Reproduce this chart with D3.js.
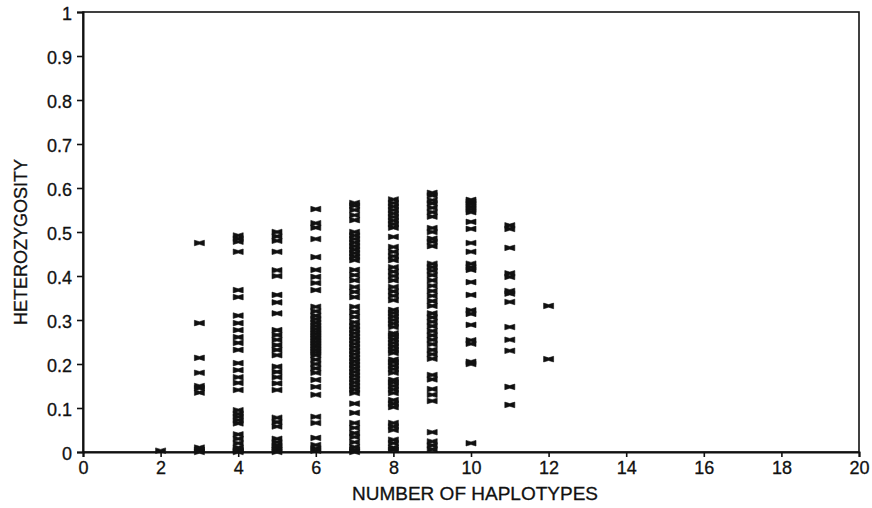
<!DOCTYPE html>
<html>
<head>
<meta charset="utf-8">
<script src="https://cdn.jsdelivr.net/npm/d3@7"></script>
<style>
  body { margin: 0; background: #fff; }
  svg { display: block; font-family: "Liberation Sans", Arial, Helvetica, sans-serif; }
</style>
</head>
<body>
<svg id="chart" width="872" height="508"></svg>
<script>
// heterozygosity of each locus, grouped by number of haplotypes
const het2 = [0.003];
const het3 = [0.0, 0.005, 0.01, 0.135, 0.145, 0.15, 0.18, 0.214, 0.293, 0.475];
const het4 = [0.0, 0.003, 0.006, 0.01, 0.02, 0.03, 0.04, 0.065, 0.072, 0.08, 0.087, 0.095,
  0.141, 0.157, 0.17, 0.186, 0.202, 0.232, 0.248, 0.261, 0.277, 0.293, 0.31, 0.352, 0.368,
  0.455, 0.478, 0.485, 0.492];
const het5 = [0.0, 0.005, 0.01, 0.015, 0.022, 0.03, 0.058, 0.068, 0.078, 0.141, 0.156, 0.17,
  0.182, 0.194, 0.22, 0.232, 0.243, 0.255, 0.266, 0.277, 0.315, 0.34, 0.357, 0.4, 0.413,
  0.455, 0.48, 0.49, 0.5];
const het6 = [0.003, 0.008, 0.016, 0.032, 0.066, 0.08, 0.13, 0.148, 0.164, 0.18, 0.19, 0.2,
  0.21, 0.22, 0.226, 0.232, 0.238, 0.244, 0.25, 0.256, 0.262, 0.268, 0.274, 0.28, 0.287,
  0.294, 0.302, 0.31, 0.32, 0.33, 0.368, 0.384, 0.398, 0.414, 0.443, 0.484, 0.51, 0.52, 0.552];
const het7 = [0.0, 0.005, 0.011, 0.022, 0.034, 0.043, 0.055, 0.066, 0.089, 0.11, 0.134,
  0.142, 0.15, 0.158, 0.166, 0.174, 0.182, 0.19, 0.198, 0.206, 0.214, 0.222, 0.23, 0.238,
  0.246, 0.254, 0.262, 0.27, 0.278, 0.286, 0.295, 0.307, 0.318, 0.33, 0.352, 0.364, 0.375,
  0.39, 0.402, 0.414, 0.436, 0.444, 0.452, 0.46, 0.468, 0.476, 0.484, 0.492, 0.5, 0.527,
  0.538, 0.55, 0.56, 0.566];
const het8 = [0.005, 0.01, 0.02, 0.028, 0.05, 0.058, 0.066, 0.102, 0.11, 0.118, 0.134, 0.142,
  0.15, 0.158, 0.164, 0.18, 0.188, 0.196, 0.204, 0.21, 0.225, 0.232, 0.24, 0.248, 0.256,
  0.264, 0.27, 0.284, 0.292, 0.3, 0.308, 0.316, 0.323, 0.345, 0.355, 0.365, 0.375, 0.39,
  0.4, 0.41, 0.42, 0.436, 0.445, 0.455, 0.466, 0.489, 0.51, 0.518, 0.526, 0.534, 0.542,
  0.55, 0.558, 0.566, 0.574];
const het9 = [0.006, 0.015, 0.024, 0.045, 0.116, 0.13, 0.143, 0.165, 0.175, 0.212, 0.222,
  0.232, 0.245, 0.255, 0.265, 0.275, 0.286, 0.296, 0.306, 0.315, 0.332, 0.343, 0.355, 0.366,
  0.378, 0.39, 0.402, 0.412, 0.42, 0.428, 0.468, 0.478, 0.485, 0.5, 0.509, 0.535, 0.545,
  0.555, 0.565, 0.572, 0.583, 0.589];
const het10 = [0.02, 0.2, 0.205, 0.246, 0.254, 0.289, 0.314, 0.322, 0.357, 0.386, 0.414,
  0.42, 0.428, 0.455, 0.475, 0.507, 0.523, 0.545, 0.551, 0.557, 0.563, 0.569, 0.573];
const het11 = [0.107, 0.148, 0.23, 0.255, 0.284, 0.341, 0.36, 0.366, 0.398, 0.406, 0.464,
  0.507, 0.515];
const het12 = [0.211, 0.332];

const groups = [
  [2, het2], [3, het3], [4, het4], [5, het5], [6, het6], [7, het7],
  [8, het8], [9, het9], [10, het10], [11, het11], [12, het12]
];
const xTicks = d3.range(0, 21, 2);
const yTicks = d3.range(0, 11).map(i => i / 10);

const W = 872, H = 508;
const margin = { top: 12, right: 13, bottom: 56, left: 83 };

const svg = d3.select("#chart");
const x = d3.scaleLinear().domain([0, 20]).range([margin.left, W - margin.right]);
const y = d3.scaleLinear().domain([0, 1]).range([H - margin.bottom, margin.top]);

const points = groups.flatMap(([n, vals]) => vals.map(v => ({ n, v })));

// frame
svg.append("rect")
  .attr("x", x(0)).attr("y", y(1))
  .attr("width", x(20) - x(0)).attr("height", y(0) - y(1))
  .attr("fill", "none").attr("stroke", "#111").attr("stroke-width", 1.6);

// axes
const xAxis = svg.append("g")
  .attr("transform", `translate(0,${y(0)})`)
  .call(d3.axisBottom(x).tickValues(xTicks).tickSize(5).tickPadding(4).tickFormat(d3.format("d")));
const yAxis = svg.append("g")
  .attr("transform", `translate(${x(0)},0)`)
  .call(d3.axisLeft(y).tickValues(yTicks).tickSize(6).tickPadding(5)
    .tickFormat(d => d === 0 ? "0" : d === 1 ? "1" : d.toFixed(1)));

for (const g of [xAxis, yAxis]) {
  g.select(".domain").attr("stroke", "#111").attr("stroke-width", 2);
  g.selectAll(".tick line").attr("stroke", "#111").attr("stroke-width", 1.6);
  g.selectAll(".tick text").attr("fill", "#111").style("font-size", "18px")
    .attr("stroke", "#111").attr("stroke-width", 0.3);
}
yAxis.selectAll(".tick text").attr("dy", "0.42em");
xAxis.selectAll(".tick text").attr("dy", "0.74em");

// markers: small flared dash, stacking gives the bow-tie look
const mark = "M-5,-2.8 L0,-1.3 L5,-2.8 L5,2.8 L0,1.3 L-5,2.8 Z";
svg.append("g").selectAll("path")
  .data(points)
  .join("path")
  .attr("d", mark)
  .attr("transform", d => `translate(${x(d.n)},${y(d.v)})`)
  .attr("fill", "#111")
  .attr("stroke", "#111").attr("stroke-width", 0.6);

// titles
svg.append("text")
  .attr("x", (x(0) + x(20)) / 2 + 4).attr("y", 500)
  .attr("text-anchor", "middle")
  .style("font-size", "19px").attr("fill", "#111")
  .attr("stroke", "#111").attr("stroke-width", 0.3)
  .text("NUMBER OF HAPLOTYPES");

svg.append("text")
  .attr("transform", `translate(27,${(y(0) + y(1)) / 2 + 10}) rotate(-90)`)
  .attr("text-anchor", "middle")
  .style("font-size", "18px").attr("fill", "#111")
  .attr("stroke", "#111").attr("stroke-width", 0.3)
  .text("HETEROZYGOSITY");
</script>
</body>
</html>
